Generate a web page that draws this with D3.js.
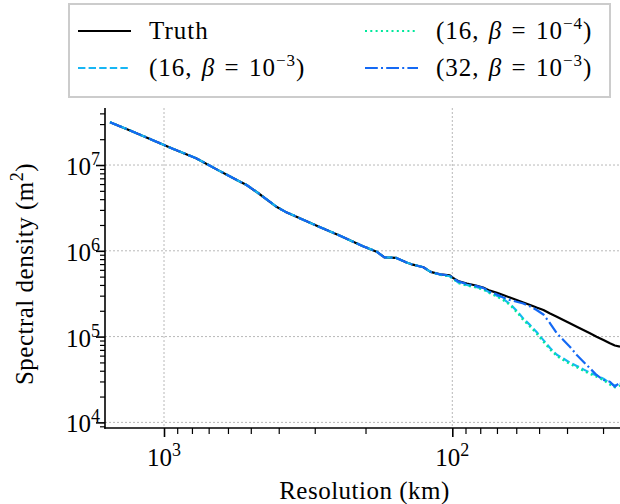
<!DOCTYPE html>
<html><head><meta charset="utf-8">
<script src="https://cdn.jsdelivr.net/npm/d3@7"></script>
<style>body{margin:0;background:#fff} svg{display:block}</style>
</head><body><svg id="c" width="620" height="504"></svg>
<script>
// ---- data ----
const resolutionKm = [1539, 1305, 1098, 928, 774, 657, 555, 517, 473, 406, 380, 344, 290, 244, 205, 183, 172, 157, 144, 137, 126, 119, 110, 102, 99.4, 95.5, 89, 82.8, 78.2, 74.1, 70.0, 66.6, 63.1, 59.8, 56.7, 53.7, 51.0, 48.3, 45.8, 43.4, 41.2, 39.1, 37.0, 35.1, 33.3, 31.6, 29.9, 28.4, 27.3, 26.2];
const truth = [3.15e7, 2.51e7, 1.96e7, 1.54e7, 1.20e7, 8.9e6, 6.6e6, 5.85e6, 4.75e6, 3.24e6, 2.86e6, 2.46e6, 1.91e6, 1.49e6, 1.14e6, 9.76e5, 8.39e5, 8.28e5, 7.31e5, 6.89e5, 6.44e5, 5.69e5, 5.32e5, 5.19e5, 4.84e5, 4.45e5, 4.16e5, 3.94e5, 3.74e5, 3.43e5, 3.24e5, 3.05e5, 2.85e5, 2.67e5, 2.50e5, 2.335e5, 2.18e5, 2.04e5, 1.86e5, 1.706e5, 1.56e5, 1.43e5, 1.304e5, 1.194e5, 1.093e5, 9.97e4, 9.13e4, 8.35e4, 7.87e4, 7.62e4];
const model16b3 = [3.15e7, 2.51e7, 1.96e7, 1.54e7, 1.20e7, 8.9e6, 6.6e6, 5.85e6, 4.75e6, 3.24e6, 2.86e6, 2.46e6, 1.91e6, 1.49e6, 1.14e6, 9.76e5, 8.39e5, 8.28e5, 7.31e5, 6.89e5, 6.44e5, 5.69e5, 5.27e5, 5.05e5, 4.75e5, 4.28e5, 4.0e5, 3.80e5, 3.60e5, 3.26e5, 3.0e5, 2.74e5, 2.40e5, 2.0e5, 1.62e5, 1.36e5, 1.13e5, 9.1e4, 7.35e4, 6.15e4, 5.55e4, 4.97e4, 4.55e4, 4.15e4, 3.80e4, 3.53e4, 3.23e4, 2.87e4, 2.68e4, 2.82e4];
const model16b4 = [3.15e7, 2.51e7, 1.96e7, 1.54e7, 1.20e7, 8.9e6, 6.6e6, 5.85e6, 4.75e6, 3.24e6, 2.86e6, 2.46e6, 1.91e6, 1.49e6, 1.14e6, 9.76e5, 8.39e5, 8.28e5, 7.31e5, 6.89e5, 6.44e5, 5.69e5, 5.25e5, 5.02e5, 4.72e5, 4.22e5, 3.94e5, 3.74e5, 3.54e5, 3.20e5, 2.93e5, 2.67e5, 2.335e5, 1.935e5, 1.56e5, 1.304e5, 1.087e5, 8.72e4, 7.07e4, 5.94e4, 5.34e4, 4.79e4, 4.39e4, 4.01e4, 3.66e4, 3.41e4, 3.12e4, 2.76e4, 2.56e4, 2.69e4];
const model32b3 = [3.15e7, 2.51e7, 1.96e7, 1.54e7, 1.20e7, 8.9e6, 6.6e6, 5.85e6, 4.75e6, 3.24e6, 2.86e6, 2.46e6, 1.91e6, 1.49e6, 1.14e6, 9.76e5, 8.39e5, 8.28e5, 7.31e5, 6.89e5, 6.44e5, 5.69e5, 5.30e5, 5.15e5, 4.80e5, 4.40e5, 4.10e5, 3.90e5, 3.70e5, 3.34e5, 3.10e5, 2.85e5, 2.67e5, 2.55e5, 2.43e5, 2.25e5, 2.04e5, 1.81e5, 1.43e5, 1.093e5, 9.13e4, 7.62e4, 6.10e4, 5.10e4, 4.27e4, 3.57e4, 3.12e4, 2.98e4, 2.61e4, 2.92e4];
const legendSizes = [null, 16, 16, 32];
const legendExponents = [null, "−3", "−4", "−3"];
const xMajorTicks = [1000, 100];
const xMajorExps = ["3", "2"];
const yMajorTicks = [1e4, 1e5, 1e6, 1e7];
const yMajorExps = ["4", "5", "6", "7"];
const xLabel = "Resolution (km)";
const yLabel = "Spectral density (m";

// ---- layout ----
const FONT = "'Liberation Serif', 'Times New Roman', serif";
const L = 105, R = 620, T = 108, B = 428;
const svg = d3.select("#c");
const x = d3.scaleLog().domain([1602, 26.2]).range([L, R]);
const y = d3.scaleLog().domain([8.6e3, 4.62e7]).range([B, T]);

const xMinor = [];
[10, 100, 1000].forEach(d => { for (let k = 2; k <= 9; k++) { const v = k * d; if (v <= 1602 && v >= 26.2) xMinor.push(v); } });
const yMinor = [];
[1e3, 1e4, 1e5, 1e6, 1e7].forEach(d => { for (let k = 2; k <= 9; k++) { const v = k * d; if (v >= 8.6e3 && v <= 4.62e7) yMinor.push(v); } });

// grid
const grid = svg.append("g").attr("stroke", "#b8b8b8").attr("stroke-width", 1).attr("stroke-dasharray", "2,2");
grid.selectAll(".gx").data(xMajorTicks).join("line")
  .attr("x1", d => x(d)).attr("x2", d => x(d)).attr("y1", T).attr("y2", B);
grid.selectAll(".gy").data(yMajorTicks).join("line")
  .attr("x1", L).attr("x2", R).attr("y1", d => y(d)).attr("y2", d => y(d));

// lines
svg.append("clipPath").attr("id", "clip").append("rect").attr("x", L).attr("y", T).attr("width", R - L).attr("height", B - T);
const series = [
  { v: truth, color: "#000000", dash: null },
  { v: model16b3, color: "#17b6f4", dash: "7.4,3.2" },
  { v: model16b4, color: "#00e89c", dash: "2,3.3" },
  { v: model32b3, color: "#1469f4", dash: "12.8,3.2,2,3.2" }
];
const line = d3.line().x(d => x(d[0])).y(d => y(d[1]));
const lg = svg.append("g").attr("clip-path", "url(#clip)");
series.forEach(s => {
  lg.append("path").datum(resolutionKm.map((r, i) => [r, s.v[i]]))
    .attr("d", line).attr("fill", "none").attr("stroke", s.color).attr("stroke-width", 2.2)
    .attr("stroke-dasharray", s.dash).attr("stroke-linejoin", "round");
});

// axes
function styleAxis(g, w) {
  g.select(".domain").remove();
  g.selectAll("line").attr("stroke", "#000").attr("stroke-width", w);
  g.selectAll("text").remove();
}
svg.append("g").attr("transform", `translate(0,${B})`)
  .call(d3.axisBottom(x).tickValues(xMinor).tickSize(6).tickFormat(""))
  .call(g => styleAxis(g, 1.2));
svg.append("g").attr("transform", `translate(0,${B})`)
  .call(d3.axisBottom(x).tickValues(xMajorTicks).tickSize(9).tickFormat(""))
  .call(g => styleAxis(g, 1.6));
svg.append("g").attr("transform", `translate(${L},0)`)
  .call(d3.axisLeft(y).tickValues(yMinor).tickSize(5).tickFormat(""))
  .call(g => styleAxis(g, 1.2));
svg.append("g").attr("transform", `translate(${L},0)`)
  .call(d3.axisLeft(y).tickValues(yMajorTicks).tickSize(9).tickFormat(""))
  .call(g => styleAxis(g, 1.6));
// spines
svg.append("line").attr("x1", L).attr("x2", L).attr("y1", T).attr("y2", B + 0.8).attr("stroke", "#000").attr("stroke-width", 1.6);
svg.append("line").attr("x1", L - 0.8).attr("x2", R).attr("y1", B).attr("y2", B).attr("stroke", "#000").attr("stroke-width", 1.6);

// tick labels
xMajorTicks.forEach((v, i) => {
  const t = svg.append("text").attr("x", x(v)).attr("y", 466).attr("text-anchor", "middle")
    .attr("font-family", FONT).attr("font-size", 25).attr("fill", "#000");
  t.append("tspan").text("10");
  t.append("tspan").attr("dy", -10).attr("font-size", 18).text(xMajorExps[i]);
});
yMajorTicks.forEach((v, i) => {
  const t = svg.append("text").attr("x", 100).attr("y", y(v) + 10).attr("text-anchor", "end")
    .attr("font-family", FONT).attr("font-size", 25).attr("fill", "#000");
  t.append("tspan").text("10");
  t.append("tspan").attr("dy", -10).attr("font-size", 18).text(yMajorExps[i]);
});

// axis labels
svg.append("text").attr("x", (L + R) / 2 + 2).attr("y", 499).attr("text-anchor", "middle")
  .attr("font-family", FONT).attr("font-size", 25).attr("letter-spacing", 0.5).text(xLabel);
const yl = svg.append("text").attr("transform", `translate(33,${(T + B) / 2 + 6}) rotate(-90)`).attr("text-anchor", "middle")
  .attr("font-family", FONT).attr("font-size", 25).attr("letter-spacing", 0.5);
yl.append("tspan").text(yLabel);
yl.append("tspan").attr("dy", -10).attr("font-size", 18).text("2");
yl.append("tspan").attr("dy", 10).text(")");

// legend
const leg = svg.append("g");
leg.append("rect").attr("x", 69).attr("y", 4).attr("width", 541).attr("height", 93)
  .attr("fill", "#fff").attr("stroke", "#cccccc").attr("stroke-width", 2);
const legPos = [[78, 31], [78, 68], [365, 31], [365, 68]];
series.forEach((s, i) => {
  const [lx, ly] = legPos[i];
  leg.append("line").attr("x1", lx).attr("x2", lx + 53).attr("y1", ly).attr("y2", ly)
    .attr("stroke", s.color).attr("stroke-width", 2).attr("stroke-dasharray", s.dash);
  const t = leg.append("text").attr("x", lx + 71).attr("y", ly + 8)
    .attr("font-family", FONT).attr("font-size", 25).attr("fill", "#000")
    .attr("letter-spacing", 1).attr("word-spacing", 2);
  if (legendSizes[i] === null) {
    t.text("Truth");
  } else {
    t.append("tspan").text(`(${legendSizes[i]}, `);
    t.append("tspan").attr("font-style", "italic").text("β");
    t.append("tspan").text(" = 10");
    t.append("tspan").attr("dy", -10).attr("font-size", 17).text(legendExponents[i]);
    t.append("tspan").attr("dy", 10).text(")");
  }
});
</script></body></html>
